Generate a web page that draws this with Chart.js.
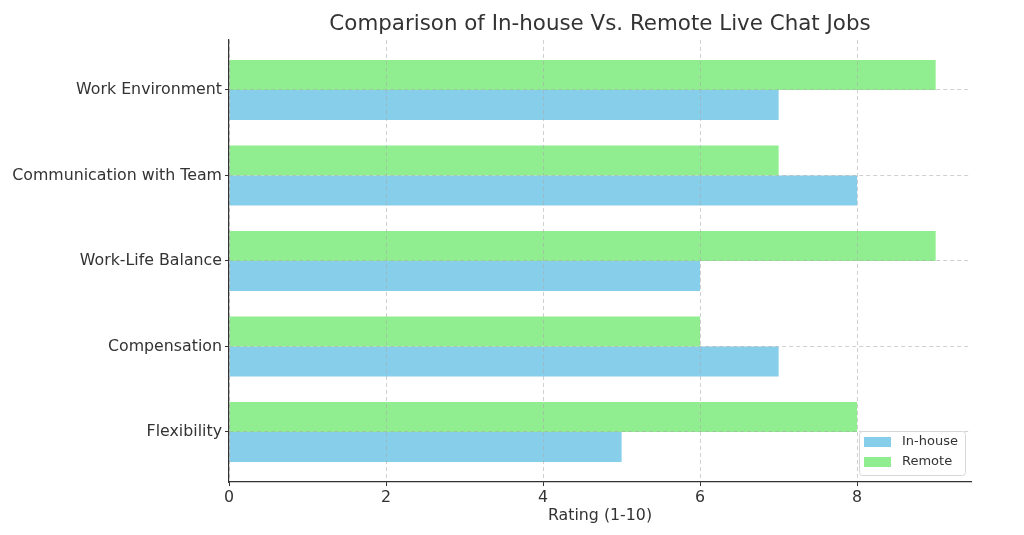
<!DOCTYPE html>
<html>
<head>
<meta charset="utf-8">
<script src="https://cdn.jsdelivr.net/npm/chart.js@4.4.1/dist/chart.umd.min.js"></script>
<style>
  html, body { margin: 0; padding: 0; background: #fff; }
  #wrap { width: 1024px; height: 535px; }
</style>
</head>
<body>
<div id="wrap"><canvas id="chart"></canvas></div>
<script>
// categories bottom -> top, like the y positions 0..4
var categories = ["Flexibility", "Compensation", "Work-Life Balance", "Communication with Team", "Work Environment"];
var inHouse = [5, 7, 6, 8, 7];
var remote = [8, 6, 9, 7, 9];
var xTicks = [0, 2, 4, 6, 8];

var textColor = "#333333";
var gridColor = "rgba(170,170,170,0.55)";
var fontFamily = "'DejaVu Sans', sans-serif";

function toPoints(values) {
  return values.map(function (v, i) { return { x: v, y: i }; });
}

// legend box drawn inside the plot, lower right
var insideLegend = {
  id: "insideLegend",
  afterDraw: function (chart) {
    var ctx = chart.ctx,
        area = chart.chartArea,
        items = chart.data.datasets.slice().reverse();
    var boxW = 106, boxH = 44;
    var left = area.right - 6 - boxW,
        top = area.bottom - 7 - boxH;

    ctx.save();
    ctx.beginPath();
    ctx.roundRect(left + 0.5, top + 0.5, boxW, boxH, 3);
    ctx.fillStyle = "rgba(255,255,255,0.8)";
    ctx.fill();
    ctx.strokeStyle = "#d6d6d6";
    ctx.lineWidth = 1;
    ctx.stroke();

    ctx.font = "13px " + fontFamily;
    ctx.textBaseline = "middle";
    items.forEach(function (ds, i) {
      var rowY = top + 11 + i * 20;
      ctx.fillStyle = ds.backgroundColor;
      ctx.fillRect(left + 5, rowY - 5, 27, 10);
      ctx.fillStyle = textColor;
      ctx.fillText(ds.label, left + 43, rowY);
    });
    ctx.restore();
  }
};

new Chart(document.getElementById("chart"), {
  type: "bar",
  data: {
    datasets: [
      {
        label: "Remote",
        data: toPoints(remote),
        backgroundColor: "#90EE90"
      },
      {
        label: "In-house",
        data: toPoints(inHouse),
        backgroundColor: "#87CEEB"
      }
    ]
  },
  options: {
    indexAxis: "y",
    responsive: true,
    maintainAspectRatio: false,
    animation: false,
    categoryPercentage: 0.7,
    barPercentage: 1.0,
    layout: { padding: { left: 0, right: 53, top: 0, bottom: 0 } },
    plugins: {
      legend: { display: false },
      tooltip: { enabled: false },
      title: {
        display: true,
        text: "Comparison of In-house Vs. Remote Live Chat Jobs",
        fullSize: false,
        color: textColor,
        font: { family: fontFamily, size: 21.4, weight: "normal" },
        padding: { top: 12, bottom: 2.3 }
      }
    },
    scales: {
      x: {
        type: "linear",
        min: 0,
        max: 9.45,
        afterBuildTicks: function (axis) {
          axis.ticks = xTicks.map(function (v) { return { value: v }; });
        },
        afterFit: function (axis) { axis.height = 53; },
        ticks: {
          color: textColor,
          padding: 2,
          font: { family: fontFamily, size: 15.8 }
        },
        grid: {
          z: 1,
          color: gridColor,
          tickLength: 4,
          tickColor: textColor,
          tickBorderDash: []
        },
        border: { display: true, color: textColor, width: 1.2, dash: [4, 3], z: 2 },
        title: {
          display: true,
          text: "Rating (1-10)",
          color: textColor,
          font: { family: fontFamily, size: 15.8 },
          padding: { top: 0, bottom: 10 }
        }
      },
      y: {
        type: "linear",
        min: -0.585,
        max: 4.585,
        offset: false,
        afterBuildTicks: function (axis) {
          axis.ticks = categories.map(function (c, i) { return { value: i }; });
        },
        afterFit: function (axis) { axis.width = 229; },
        ticks: {
          color: textColor,
          padding: 3,
          font: { family: fontFamily, size: 15.8 },
          callback: function (value) { return categories[value]; }
        },
        grid: {
          z: 1,
          offset: false,
          color: gridColor,
          tickLength: 4,
          tickColor: textColor,
          tickBorderDash: []
        },
        border: { display: true, color: textColor, width: 1.2, dash: [4, 3], z: 2 }
      }
    }
  },
  plugins: [insideLegend]
});
</script>
</body>
</html>
